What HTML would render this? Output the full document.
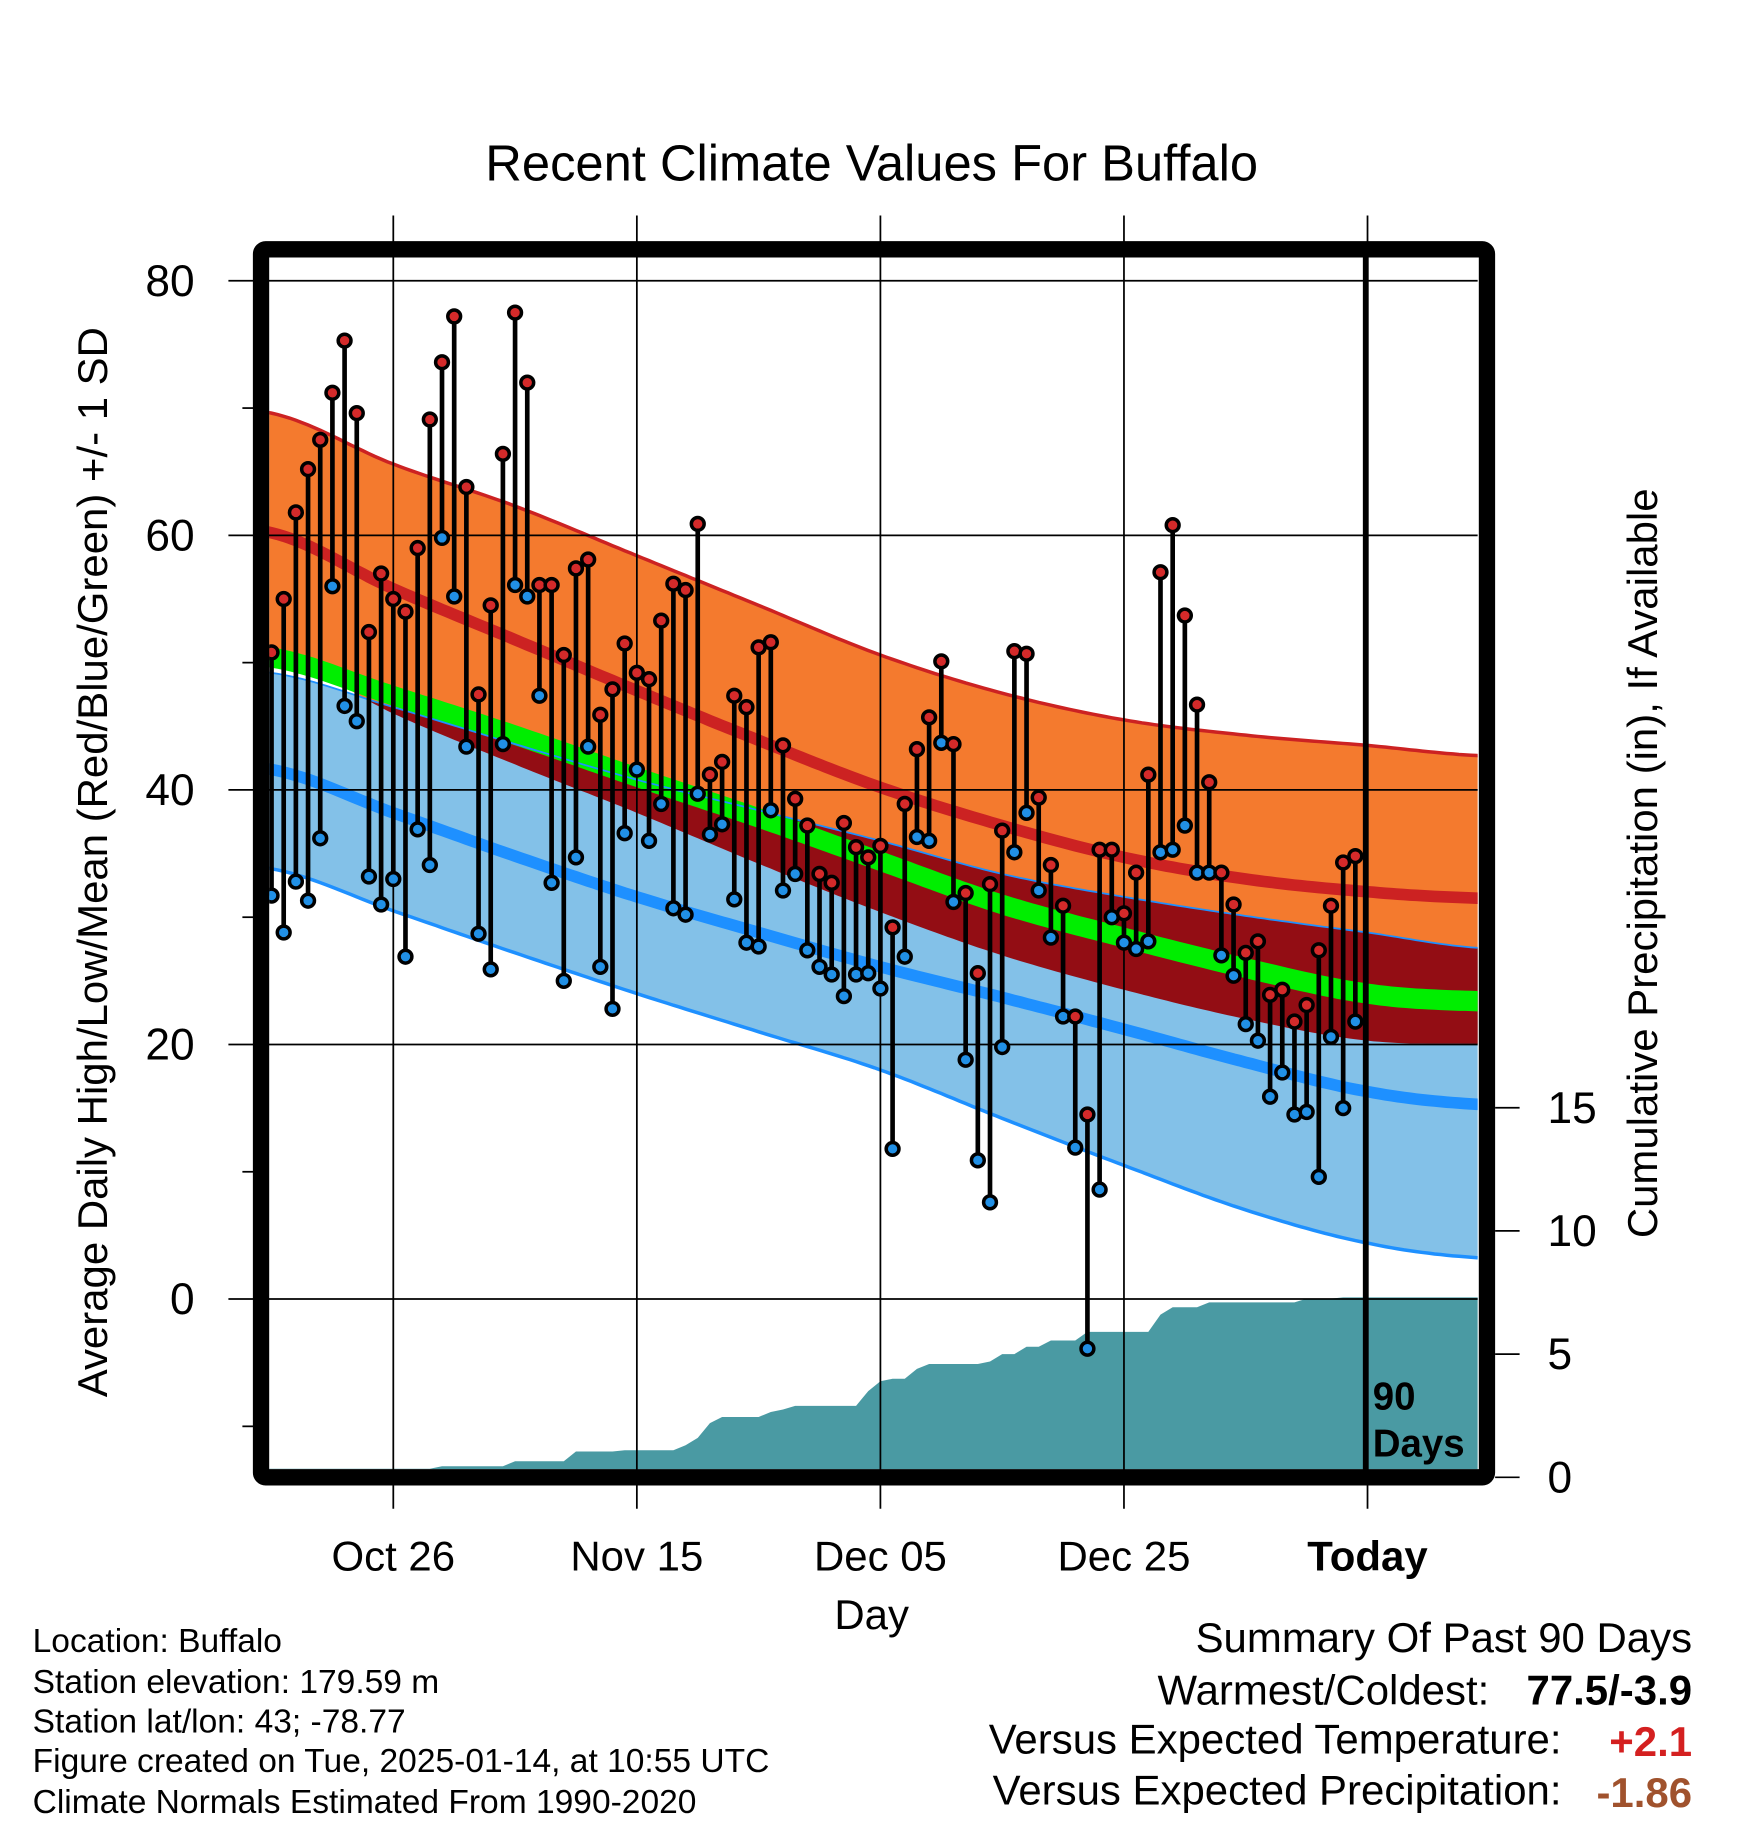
<!DOCTYPE html>
<html><head><meta charset="utf-8"><style>
html,body{margin:0;padding:0;background:#fff;}
svg{display:block;font-family:"Liberation Sans",sans-serif;}
</style></head><body>
<svg id="chart" width="1748" height="1828" viewBox="0 0 1500 1569" preserveAspectRatio="none" xmlns="http://www.w3.org/2000/svg">
<rect x="0" y="0" width="1500" height="1569" fill="#fff"/>
<text x="748" y="155" font-size="43.5" text-anchor="middle">Recent Climate Values For Buffalo</text>
<defs><clipPath id="plotclip"><rect x="231" y="221" width="1037" height="1040"/></clipPath></defs>
<g id="bands" clip-path="url(#plotclip)"></g>
<g id="grid"></g>
<g id="marks" clip-path="url(#plotclip)"></g>
<g id="axes"></g>
<line x1="1172" y1="217" x2="1172" y2="1262" stroke="#000" stroke-width="5"/>
<text font-size="33" font-weight="bold" x="1178" y="1210">90</text>
<text font-size="33" font-weight="bold" x="1178" y="1250">Days</text>
<rect x="224" y="214" width="1052" height="1054" fill="none" stroke="#000" stroke-width="14" rx="4"/>
<text font-size="36" text-anchor="middle" transform="translate(92,740) rotate(-90)">Average Daily High/Low/Mean (Red/Blue/Green) +/- 1 SD</text>
<text font-size="36" text-anchor="middle" transform="translate(1422,741) rotate(-90)">Cumulative Precipitation (in), If Available</text>
<text font-size="36" text-anchor="middle" x="748" y="1398">Day</text>
<g font-size="28.8">
<text x="28" y="1418">Location: Buffalo</text>
<text x="28" y="1453">Station elevation: 179.59 m</text>
<text x="28" y="1487">Station lat/lon: 43; -78.77</text>
<text x="28" y="1521">Figure created on Tue, 2025-01-14, at 10:55 UTC</text>
<text x="28" y="1556">Climate Normals Estimated From 1990-2020</text>
</g>
<g font-size="36">
<text x="1452" y="1418" text-anchor="end">Summary Of Past 90 Days</text>
<text x="1278" y="1463" text-anchor="end">Warmest/Coldest:</text>
<text x="1452" y="1463" text-anchor="end" font-weight="bold">77.5/-3.9</text>
<text x="1340" y="1505" text-anchor="end">Versus Expected Temperature:</text>
<text x="1452" y="1507" text-anchor="end" font-weight="bold" fill="#d42020">+2.1</text>
<text x="1340" y="1549" text-anchor="end">Versus Expected Precipitation:</text>
<text x="1452" y="1551" text-anchor="end" font-weight="bold" fill="#a0522d">-1.86</text>
</g>
</svg>
<script>
const normDays = [0,10,20,30,40,50,60,70,80,90,99];
const highUpper = [69.6,65.6,62.3,58.4,54.5,50.6,47.6,45.5,44.3,43.5,42.7];
const highMean  = [60.2,55.8,51.8,47.8,43.9,40.2,37.2,34.7,33.0,32.0,31.5];
const highLower = [50.8,46.0,42.0,38.2,34.2,30.4,27.0,24.3,22.0,20.3,20.05];
const meanLine  = [50.4,47.4,44.3,41.0,37.8,34.4,31.0,28.4,26.0,24.0,23.4];
const lowUpper  = [49.2,46.5,43.6,40.8,38.4,36.0,33.4,31.6,30.1,28.8,27.6];
const lowMean   = [41.6,38.2,34.8,31.6,28.8,26.1,23.7,21.2,18.6,16.3,15.3];
const lowLower  = [33.8,30.5,27.2,24.0,21.0,18.0,14.2,10.5,7.0,4.4,3.25];
const highs = [50.8,55,61.8,65.2,67.5,71.2,75.3,69.6,52.4,57,55,54,59,69.1,73.6,77.2,63.8,47.5,54.5,66.4,77.5,72,56.1,56.1,50.6,57.4,58.1,45.9,47.9,51.5,49.2,48.7,53.3,56.2,55.7,60.9,41.2,42.2,47.4,46.5,51.2,51.6,43.5,39.3,37.2,33.4,32.7,37.4,35.5,34.7,35.6,29.2,38.9,43.2,45.7,50.1,43.6,31.9,25.6,32.6,36.8,50.9,50.7,39.4,34.1,30.9,22.2,14.5,35.3,35.3,30.3,33.5,41.2,57.1,60.8,53.7,46.7,40.6,33.5,31,27.2,28.1,23.9,24.3,21.8,23.1,27.4,30.9,34.3,34.8];
const lows = [31.7,28.8,32.8,31.3,36.2,56,46.6,45.4,33.2,31,33,26.9,36.9,34.1,59.8,55.2,43.4,28.7,25.9,43.6,56.1,55.2,47.4,32.7,25,34.7,43.4,26.1,22.8,36.6,41.6,36,38.9,30.7,30.2,39.7,36.5,37.3,31.4,28,27.7,38.4,32.1,33.4,27.4,26.1,25.5,23.8,25.5,25.6,24.4,11.8,26.9,36.3,36,43.7,31.2,18.8,10.9,7.6,19.8,35.1,38.2,32.1,28.4,22.2,11.9,-3.9,8.6,30,28,27.5,28.1,35.1,35.3,37.2,33.5,33.5,27,25.4,21.6,20.3,15.9,17.8,14.5,14.7,9.6,20.6,15,21.8];
const precip = [0.35,0.35,0.35,0.35,0.35,0.35,0.35,0.35,0.35,0.35,0.35,0.35,0.35,0.35,0.45,0.45,0.45,0.45,0.45,0.45,0.65,0.65,0.65,0.65,0.65,1.05,1.05,1.05,1.05,1.1,1.1,1.1,1.1,1.1,1.3,1.6,2.2,2.45,2.45,2.45,2.45,2.65,2.75,2.9,2.9,2.9,2.9,2.9,2.9,3.5,3.9,4.0,4.0,4.4,4.6,4.6,4.6,4.6,4.6,4.7,5.0,5.0,5.3,5.3,5.55,5.55,5.55,5.9,5.9,5.9,5.9,5.9,5.9,6.6,6.9,6.9,6.9,7.1,7.1,7.1,7.1,7.1,7.1,7.1,7.1,7.25,7.25,7.25,7.3,7.3];
const yTicks = [80,60,40,20,0];
const yMinor = [70,50,30,10,-10];
const pTicks = [0,5,10,15];
const xTickDays = [10,30,50,70,90];
const xTickLabels = ["Oct 26","Nov 15","Dec 05","Dec 25","Today"];

const NS="http://www.w3.org/2000/svg";
const X=d=>233+10.45*d, Y=v=>1115-10.925*v, P=p=>1268-21.15*p;
function mk(tag,attrs,parent){const e=document.createElementNS(NS,tag);for(const k in attrs)e.setAttribute(k,attrs[k]);parent.appendChild(e);return e;}
function interp(arr,d){
 const n=normDays.length;
 let i=0; while(i<n-2 && d>normDays[i+1]) i++;
 const t=(d-normDays[i])/(normDays[i+1]-normDays[i]);
 const p0=arr[Math.max(0,i-1)], p1=arr[i], p2=arr[i+1], p3=arr[Math.min(n-1,i+2)];
 const m1=(p2-p0)/2, m2=(p3-p1)/2;
 const t2=t*t,t3=t2*t;
 return (2*t3-3*t2+1)*p1+(t3-2*t2+t)*m1+(-2*t3+3*t2)*p2+(t3-t2)*m2;
}
const samp=[];for(let d=-1;d<=100;d+=0.5)samp.push(d);
function lineOf(f){return samp.map(d=>X(d).toFixed(1)+","+Y(f(d)).toFixed(1));}
function band(fTop,fBot){return lineOf(fTop).concat(lineOf(fBot).reverse()).join(" ");}
const bands=document.getElementById('bands'), grid=document.getElementById('grid'), marks=document.getElementById('marks'), axes=document.getElementById('axes');
const hu=d=>interp(highUpper,d), hm=d=>interp(highMean,d), hl=d=>interp(highLower,d), mm=d=>interp(meanLine,d), lu=d=>interp(lowUpper,d), lm=d=>interp(lowMean,d), ll=d=>interp(lowLower,d);
let e;
e=mk('polygon',{points:band(hu,hl),fill:'#f47a2e'},bands);


e=mk('polygon',{points:band(lu,ll),fill:'#83c1e8'},bands);


e=mk('polygon',{points:band(d=>Math.min(hu(d),lu(d)),d=>Math.min(Math.min(hu(d),lu(d)),Math.max(hl(d),ll(d)))),fill:'#930d14'},bands);


e=mk('polygon',{points:band(d=>mm(d)+0.8,d=>mm(d)-0.8),fill:'#00ee00'},bands);


e=mk('polyline',{points:lineOf(hu).join(" "),fill:'none',stroke:'#cc2222','stroke-width':3},bands);


e=mk('polyline',{points:lineOf(hm).join(" "),fill:'none',stroke:'#cc2222','stroke-width':10},bands);


e=mk('polyline',{points:lineOf(lu).join(" "),fill:'none',stroke:'#1e90ff','stroke-width':1.5},bands);


e=mk('polyline',{points:lineOf(lm).join(" "),fill:'none',stroke:'#1e90ff','stroke-width':10},bands);


e=mk('polyline',{points:lineOf(ll).join(" "),fill:'none',stroke:'#1e90ff','stroke-width':3},bands);


let pts=[X(-1)+","+P(0), X(-1)+","+P(precip[0])];
precip.forEach((p,i)=>pts.push(X(i)+","+P(p)));
pts.push(X(101)+","+P(precip[precip.length-1]));pts.push(X(101)+","+P(0));
e=mk('polygon',{points:pts.join(" "),fill:'#4a9aa3'},bands);


yTicks.forEach(v=>{
 e=mk('line',{x1:196,x2:1268,y1:Y(v),y2:Y(v),stroke:'#000','stroke-width':1.5},grid);
 
 
 e=mk('text',{x:167,y:Y(v)+13,'font-size':38,'text-anchor':'end'},axes);
 e.textContent=v;
 
 
});
yMinor.forEach(v=>{
 e=mk('line',{x1:208,x2:220,y1:Y(v),y2:Y(v),stroke:'#000','stroke-width':1.5},grid);
 
 
});
xTickDays.forEach((d,i)=>{
 e=mk('line',{x1:X(d),x2:X(d),y1:185,y2:1295,stroke:'#000','stroke-width':1.5},grid);
 
 
 e=mk('text',{x:X(d),y:1348,'font-size':36,'text-anchor':'middle','font-weight':i===4?'bold':'normal'},axes);
 e.textContent=xTickLabels[i];
 
 
});
pTicks.forEach(p=>{
 e=mk('line',{x1:1283,x2:1304,y1:P(p),y2:P(p),stroke:'#000','stroke-width':1.5},axes);
 
 
 e=mk('text',{x:1328,y:P(p)+13,'font-size':38},axes);
 e.textContent=p;
 
 
});
highs.forEach((h,i)=>{
 const l=lows[i];
 e=mk('line',{x1:X(i),x2:X(i),y1:Y(h),y2:Y(l),stroke:'#000','stroke-width':4},marks);
 
 
});
highs.forEach((h,i)=>{
 e=mk('circle',{cx:X(i),cy:Y(lows[i]),r:5.5,fill:'#2190e6',stroke:'#000','stroke-width':3},marks);
 
 
 e=mk('circle',{cx:X(i),cy:Y(h),r:5.5,fill:'#d42a2a',stroke:'#000','stroke-width':3},marks);
 
 
});
</script>
</body></html>
